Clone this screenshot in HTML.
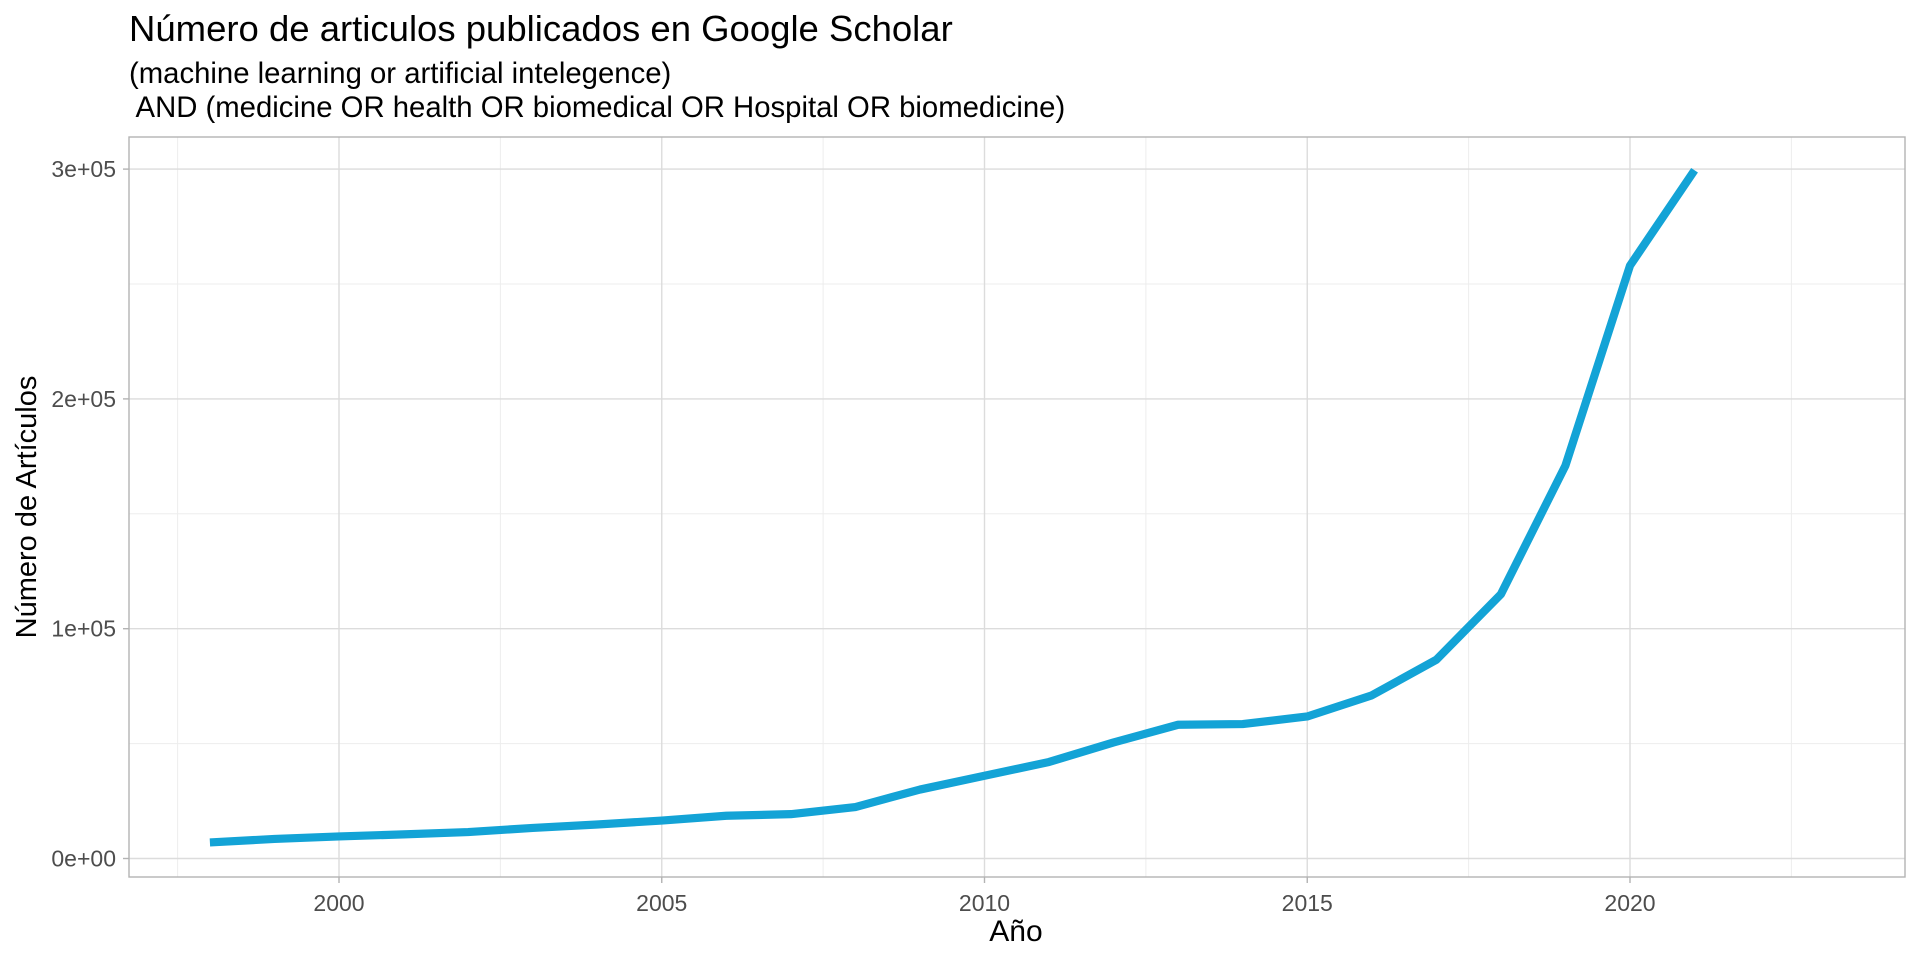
<!DOCTYPE html>
<html><head><meta charset="utf-8"><style>
body{margin:0;background:#fff;}
svg{display:block;font-family:"Liberation Sans",sans-serif;}
</style></head><body>
<svg id="chart" width="1920" height="960" viewBox="0 0 1920 960">
<text x="129" y="41" font-size="36.5" fill="#000">Número de articulos publicados en Google Scholar</text>
<text x="129" y="83" font-size="29.3" fill="#000">(machine learning or artificial intelegence)</text>
<text x="129" y="117" font-size="29.3" fill="#000" xml:space="preserve"> AND (medicine OR health OR biomedical OR Hospital OR biomedicine)</text>
<g id="grid"></g>
<g id="series"></g>
<rect x="129" y="137" width="1776" height="740" fill="none" stroke="#b3b3b3" stroke-width="1.4"/>
<g id="axes"></g>
<text x="1016" y="941" font-size="30" text-anchor="middle" fill="#000">Año</text>
<text transform="translate(36,507) rotate(-90)" font-size="29" text-anchor="middle" fill="#000">Número de Artículos</text>
</svg>
<script>
const years = [1998,1999,2000,2001,2002,2003,2004,2005,2006,2007,2008,2009,2010,2011,2012,2013,2014,2015,2016,2017,2018,2019,2020,2021];
const articles = [7000,8500,9600,10500,11500,13300,14800,16500,18600,19300,22400,30000,36000,42000,50500,58200,58500,61800,71000,86500,115000,171000,258000,299500];
const xTicks = [2000,2005,2010,2015,2020];
const xMinor = [1997.5,2002.5,2007.5,2012.5,2017.5,2022.5];
const yTicks = [0,100000,200000,300000];
const yTickLabels = ["0e+00","1e+05","2e+05","3e+05"];
const yMinor = [50000,150000,250000];

const X = v => 339 + (v - 2000) * 64.55;
const Y = v => 858.5 - v * 0.002298;
const ns = "http://www.w3.org/2000/svg";
function mk(tag, parent, attrs){const e=document.createElementNS(ns,tag);for(const k in attrs)e.setAttribute(k,attrs[k]);parent.appendChild(e);return e;}
const grid=document.getElementById('grid'), axes=document.getElementById('axes'), series=document.getElementById('series');
xMinor.forEach(v=>{const l=mk('line',grid,{x1:X(v),x2:X(v),y1:137,y2:877,stroke:'#ededed','stroke-width':1});

});
yMinor.forEach(v=>{const l=mk('line',grid,{x1:129,x2:1905,y1:Y(v),y2:Y(v),stroke:'#ededed','stroke-width':1});

});
xTicks.forEach(v=>{const l=mk('line',grid,{x1:X(v),x2:X(v),y1:137,y2:877,stroke:'#dcdcdc','stroke-width':1.4});


const t=mk('line',axes,{x1:X(v),x2:X(v),y1:877,y2:883,stroke:'#b3b3b3','stroke-width':1.4});


const tx=mk('text',axes,{x:X(v),y:911,'font-size':23,'text-anchor':'middle',fill:'#4d4d4d'});tx.textContent=v;

});
yTicks.forEach((v,i)=>{const l=mk('line',grid,{x1:129,x2:1905,y1:Y(v),y2:Y(v),stroke:'#dcdcdc','stroke-width':1.4});


const t=mk('line',axes,{x1:123,x2:129,y1:Y(v),y2:Y(v),stroke:'#b3b3b3','stroke-width':1.4});


const tx=mk('text',axes,{x:116,y:Y(v)+8,'font-size':23,'text-anchor':'end',fill:'#4d4d4d'});tx.textContent=yTickLabels[i];

});
const p=mk('polyline',series,{points:years.map((y,i)=>X(y)+','+Y(articles[i])).join(' '),fill:'none',stroke:'#13a3d6','stroke-width':8.2,'stroke-linejoin':'round'});


</script>
</body></html>
